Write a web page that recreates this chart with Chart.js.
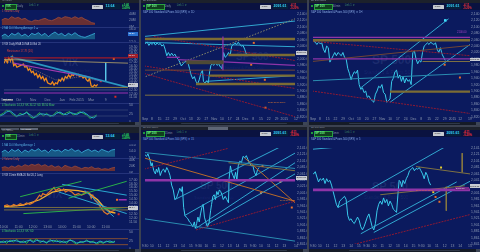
<!DOCTYPE html>
<html>
<head>
<meta charset="utf-8">
<script src="https://cdn.jsdelivr.net/npm/chart.js@4.4.1/dist/chart.umd.min.js"></script>
<style>
  html, body { margin: 0; padding: 0; width: 480px; height: 252px; overflow: hidden; background: #3b4150; font-family: "Liberation Sans", Arial, sans-serif; }
  div, canvas { position: absolute; }
  .t { white-space: nowrap; line-height: 1; }
</style>
</head>
<body>
<script>
// chart instances
let charts = {};

// ---------- VIX daily (top left), x = bar slot, y = VIX ----------
const vixBars = [0,5,10,15,20,25,30,35,40,50,60,65,70,75,80,85,90,95,100,105,110,115,120,125,130,135,140,145,150,155,160,165,170,175,180,185,190,195,200,205,210,215,220,225,230,235,240,245,250,255,260,265,270,275,280,285,290];
const vixClose = [16.9,17.5,17.0,17.75,17.25,17.9,16.5,16.75,16.25,16.5,16.75,16.25,16.4,15.75,16.0,15.4,15.6,15.0,15.25,14.6,15.0,14.4,14.75,14.1,14.5,13.75,13.6,13.5,13.9,13.4,13.75,13.6,14.25,14.0,14.5,14.1,14.75,14.5,15.0,14.6,15.1,14.9,15.25,15.0,15.1,14.75,14.9,14.5,14.75,14.25,14.0,14.4,13.25,13.1,13.4,13.2,13.5];
const vixMaBars = [0,40,80,120,160,200,240,280,290];
const vixMa = [17.2,16.8,16.2,15.2,14.2,14.4,14.8,14.2,14.0];
const vixPurpleBars = [30,120,200,260,300];
const vixPurple = [16.9,16.0,15.25,14.75,14.0];
const vixRed = [[0,17.75,385,17.75]];
const vixBeige = [[0,17.5,385,16.9]];
const vixTeal = [[20,17.9,385,13.0]];
const vixGold = [[110,13.0,385,13.0]];
const vixGrey = [[0,12.6,385,12.6]];
const vixPurpleFlat = [[0,12.1,385,12.1]];
const vixCyan = [[315,17.0,315,14.0]];
const vixOrangeMarks = [[340,17.6]];
const vixRedMarks = [[300,14.0],[345,11.5]];
const vixDays = ['Sep','Oct','Nov','Dec','Jan','Feb 2015','Mar','9','16'];

const volBars = [5,15,25,35,45,55,65,75,85,95,105,115,125,135,145,155,165,175,185,195,205,215,225,235,245,255,265,275,285];
const vixVol = [21,26,23,31,26,29,23,26,19,16,21,19,23,26,21,19,23,29,26,31,29,26,31,26,29,23,19,13,11];
const vixMa10 = [18,24,16,26,21,28,18,24,16,26,22,28,20,26,16,24,30,22,26,18,26,21,28,20,16,14,18,22,26];
const stoBars = [0,10,20,30,40,50,60,70,80,90,100,110,120,130,140,150,160,170,180,190,200,210,220,230,240,250,260,270,280,290];
const vixStoK = [21,26,36,31,21,16,26,21,31,16,11,21,28,18,26,16,21,31,26,21,28,31,21,26,31,26,21,11,16,21];
const vixStoD = [18,22,30,34,26,18,20,24,28,22,14,16,24,24,22,20,18,26,30,24,22,28,26,22,28,30,24,16,12,18];

// ---------- VIX 15 min (bottom left) ----------
const v15Bars = [0,10,20,30,40,50,60,70,80,90,100,110,115,120,130,140,150,155,160,170,180,185,190,200,210,220,230,240,250,260,265,270,275,280,290,300,310,320,330,340,345];
const v15Close = [13.6,13.72,13.48,13.8,13.6,13.88,13.72,14.0,13.8,14.0,14.4,15.0,14.8,15.2,15.0,15.4,15.8,16.0,15.6,15.88,15.6,15.8,15.4,15.6,15.4,15.0,15.2,15.0,15.2,15.4,15.2,14.6,15.0,14.4,14.0,13.4,12.8,12.52,12.8,13.0,13.2];
const v15MaBars = [0,60,110,150,190,230,260,290,310,330,345];
const v15Ma = [13.48,13.72,14.4,15.4,15.72,15.6,15.32,14.4,13.4,12.8,12.68];
const v15Green = [[50,14.8,240,16.8],[200,14.6,380,16.8],[60,12.6,380,13.4]];
const v15Cyan = [[180,16.4,380,15.0],[250,15.6,340,12.2],[170,15.4,380,12.6]];
const v15Gold = [[0,13.4,384,13.4],[0,13.08,384,13.08]];
const v15Purple = [[355,14.4,380,14.4]];
const v15OrangeMarks = [[350,14.4]];
const v15RedMarks = [[355,12.52]];
const v15Times = ['10:00','11:00','12:00','13:00','14:00','15:00','10:00','11:00','12:00'];

const v15SubBars = [5,15,25,35,45,55,65,75,85,95,105,115,125,135,145,155,165,175,185,195,205,215,225,235,245,255,265,275,285,295,305,315,325,335,345];
const v15Ma10 = [18,24,16,26,20,26,16,24,18,26,21,28,20,24,16,26,21,24,18,26,22,28,20,24,16,22,26,20,24,18,26,22,18,24,26];
const v15Vol = [16,19,15,21,17,23,19,25,21,26,23,27,21,25,19,23,17,21,15,23,19,16,21,17,13,17,15,19,13,15,11,13,11,15,17];
const v15StoBars = [0,10,20,30,40,50,60,70,80,90,100,110,120,130,140,150,160,170,180,190,200,210,220,230,240,250,260,270,280,290,300,310,320,330,340,345];
const v15StoK = [19,24,17,27,21,29,19,24,17,29,23,31,19,25,17,29,21,27,19,24,17,29,21,14,23,19,27,19,24,14,21,17,24,19,21,24];
const v15StoD = [22,20,24,22,26,24,22,20,24,26,20,26,24,22,20,24,26,22,24,20,22,26,24,18,20,22,24,22,20,18,24,20,22,24,20,22];
const stoLevels = [[0,31,384,31],[0,13,384,13]];

// ---------- S&P 500 (middle top) ----------
const mtBars = [3,10,15,20,25,30,35,40,45,50,55,60,65,70,75,80,85,90,95,100,105,110,115,120,125,130,135,140,145,150,155,160,165,170,175,180,183,188,193,198,202,206,210,215,220,225,230,235,240,245,250,255,260,265,270,275,280,285,290,295,300,305,310,315];
const mtClose = [2048,2052,2042,2050,2045,2052,2043,2050,2045,2048,2040,2045,2030,2010,2020,2010,2018,2010,2015,2005,2000,1990,1978,1985,1990,1992,1990,1970,1950,1938,1945,1930,1922,1935,1955,1965,1930,1925,1932,1925,1960,1980,1985,1980,1990,1980,1985,1975,1970,2020,2005,2010,2020,2010,2040,2045,2050,2045,2052,2045,2040,2042,2030,2015];
const mtGrey = [[5,1945,465,2125]];
const mtCyan = [[0,2070,465,2118],[0,2052,465,2038],[190,1930,465,1948]];
const mtRed = [[30,2070,465,1995],[0,1978,465,1908],[0,1955,465,1820]];
const mtGold = [[0,2062,465,2062],[260,2012,465,2012],[200,1948,465,1948],[160,1922,465,1922]];
const mtGoldThin = [[0,1887,465,1887]];
const mtBand = [[130,1990,245,1990]];
const mtBrown = [[0,1965,465,1965]];
const mtPurple = [[70,2005,110,2005],[105,1998,465,1980],[243,2070,243,1965]];
const mtMarks = [[338,2050],[330,1982],[372,1935],[374,1848]];

// ---------- S&P 500 (right top) ----------
const rtBars = [0,5,10,15,20,25,30,35,40,45,50,55,60,65,70,75,80,85,90,95,100,105,110,115,120,125,130,135,140,145,150,155,160,165,170,175,180,185,190,195,200,205,210,215,220,225,230,235,240,245,250,255,260,265,270,275,280,285,290,295,300,305,310,315,320,325,330,335,340,345,350,355,360,365,370,375,380,385,390,395,400,405,410];
const rtClose = [2050,2055,2052,2045,2052,2048,2050,2030,2020,2040,2035,1990,2000,2010,2020,2010,2020,2015,2010,2020,2005,2000,1970,1955,1935,1950,1960,1955,1965,1920,1905,1910,1895,1900,1880,1885,1875,1870,1865,1890,1900,1915,1910,1920,1895,1890,1865,1870,1875,1930,1940,1960,1965,1940,1950,1930,1945,1925,1940,1930,1935,1920,2020,2025,2000,1985,1995,1990,2020,2040,2045,2050,2045,2052,2048,2045,2050,2030,2020,2035,2015,2005,1995];
const rtPurple = [[0,2067,486,2067],[0,2000,486,2000]];
const rtGold = [[0,2058,486,2058],[240,1898,486,1898]];
const rtGoldThin = [[340,1992,486,1992]];
const rtRed = [[0,2055,486,2010],[0,1900,486,1830]];
const rtBrown = [[0,1992,486,2042]];
const rtCyan = [[150,1910,420,2125],[240,1865,486,2045]];
const rtTeal = [[0,1932,486,1955]];
const rtMarks = [[408,1982],[455,1942]];
const rtCyanMarks = [[410,2120]];

// ---------- S&P 500 (middle bottom) ----------
const mbBars = [3,8,12,18,22,25,30,35,38,42,45,50,55,60,65,70,75,80,85,90,95,100,105,110,115,118,122,126,130,135,140,145,150,155,158,162,166,170,174,178,182,186,190,195,200,205,208,212,216,220,224,228,232,236,240,244,250,255,260,262,266,270,274,278,282,286,290,295,300,305,310,315,320,325,330,335,340,345,350,355];
const mbClose = [2120,2115,2123,2105,2085,2095,2070,2060,2075,2065,2080,2055,2070,2075,2065,2080,2070,2055,2025,2010,1980,1985,2000,2015,2005,2020,1955,1930,1925,1920,1910,1905,1895,1910,1890,1905,1925,1910,1935,1955,1965,1925,1910,1895,1905,1945,1965,1990,1995,1980,2005,1995,2010,2005,1995,1980,1990,1980,1970,2045,2085,2065,2055,2045,2065,2040,2085,2100,2095,2115,2110,2117,2105,2095,2085,2087,2065,2055,2075,2080];
const mbTeal = [[0,2127,465,2077],[0,1920,465,1850]];
const mbGoldThin = [[260,2095,465,2070]];
const mbRed = [[0,2075,260,2140],[160,1885,465,1975]];
const mbOrange = [[0,2110,465,1975],[310,2110,465,1970]];
const mbCyan = [[95,1980,440,2155],[125,1930,465,2125],[160,1890,465,2095],[190,1900,465,2060]];
const mbPurple = [[0,2040,465,2040]];
const mbMarks = [[365,2085],[420,2035],[360,2000],[455,1955]];

// ---------- S&P 500 (right bottom) ----------
const rbBars = [0,5,10,15,20,25,30,35,40,45,50,55,60,65,70,75,80,85,90,95,100,105,110,115,120,125,130,135,140,145,150,155,160,165,170,175,180,185,190,195,200,205,210,215,220,225,230,235,240,245,250,255,260,265,268,272,276,280,285,290,295,300,305,310,315,320,325,330,335,340,345,350,355,360,365];
const rbClose = [2065,2060,2067,2050,2035,2045,2040,2047,2030,2045,2035,2040,2025,2005,1985,1965,1955,1975,1980,1985,1990,1980,1930,1915,1920,1910,1905,1915,1925,1915,1895,1885,1895,1910,1925,1935,1915,1895,1885,1905,1945,1965,1975,1965,1985,1970,1980,1960,1975,1965,1950,1945,1940,2005,2040,2035,2020,2040,2030,2045,2055,2070,2075,2080,2070,2077,2075,2080,2070,2060,2045,2065,2055,2035,2025];
const rbCyan = [[80,1955,410,2145],[150,1873,445,2035],[190,1877,486,2037],[0,2137,115,2147]];
const rbGoldThin = [[210,1995,470,2023],[320,2083,486,2060],[462,2125,462,2065],[413,2020,413,1945]];
const rbPurple = [[0,2010,486,2010]];
const rbRed = [[130,1840,486,1933]];
const rbYellowMarks = [[397,2080],[373,2003]];
const rbMarks = [[380,1988],[392,1973]];

const spDays = ['Sep','8','15','22','29','Oct','13','20','27','Nov','10','17','24','Dec','8','15','22','29','2015','12','19','26','Feb','9'];
const spHours = ['9:30','10','11','12','13','14','15','9:30','10','11','12','13','14','15','9:30','10','11','12','13','14','15','9:30','10','11'];

// ---------- helpers ----------
const NAVY = '#0b1a5e';

function box(x, y, w, h, bg, extra) {
    const d = document.createElement('div');
    d.style.cssText = `left:${x}px;top:${y}px;width:${w}px;height:${h}px;background:${bg};` + (extra || '');
    document.body.appendChild(d);
    return d;
}

function label(x, y, s, color, size, extra) {
    const d = document.createElement('div');
    d.className = 't';
    d.textContent = s;
    d.style.cssText = `left:${x}px;top:${y}px;color:${color};font-size:${size}px;` + (extra || '');
    document.body.appendChild(d);
    return d;
}

function series(xs, ys, color, width, dash) {
    return { data: xs.map((x, i) => ({ x: x, y: ys[i] })), borderColor: color, borderWidth: width || 1, borderDash: dash || [], pointRadius: 0, fill: false };
}

function area(xs, ys, color, fillColor, base) {
    return { data: xs.map((x, i) => ({ x: x, y: ys[i] })), borderColor: color, borderWidth: 0.8, pointRadius: 0, fill: { value: base }, backgroundColor: fillColor };
}

function segs(list, color, width, dash) {
    return list.map(p => ({ data: [{ x: p[0], y: p[1] }, { x: p[2], y: p[3] }], borderColor: color, borderWidth: width || 1, borderDash: dash || [], pointRadius: 0, fill: false }));
}

function marks(list, color, size) {
    return { data: list.map(p => ({ x: p[0], y: p[1] })), showLine: false, pointStyle: 'rect', pointRadius: size || 1.4, backgroundColor: color, borderWidth: 0 };
}

const money = v => v.toLocaleString('en-US', { minimumFractionDigits: 2, maximumFractionDigits: 2 });

function addChart(id, r, cfg) {
    const cv = document.createElement('canvas');
    cv.width = r.w; cv.height = r.h;
    cv.style.cssText = `left:${r.x}px;top:${r.y}px;width:${r.w}px;height:${r.h}px;`;
    document.body.appendChild(cv);
    charts[id] = new Chart(cv, {
        type: 'line',
        data: { datasets: cfg.datasets },
        options: {
            responsive: false,
            animation: false,
            events: [],
            layout: { padding: 0 },
            plugins: { legend: { display: false }, tooltip: { enabled: false } },
            elements: { line: { tension: 0 } },
            scales: {
                x: {
                    type: 'linear', min: cfg.xMin, max: cfg.xMax, display: !!cfg.xAxisH,
                    grid: { display: false, drawTicks: false, tickLength: 0 }, border: { display: false },
                    ticks: { stepSize: cfg.xStep || 30, autoSkip: false, maxRotation: 0, padding: 0.5, color: '#8e9ab0', font: { size: 3.4 },
                             callback: v => (cfg.xLabels ? (cfg.xLabels[Math.round((v - cfg.xMin) / (cfg.xStep || 30))] || '') : '') },
                    afterFit: s => { s.height = cfg.xAxisH || 0; s.paddingLeft = 0; s.paddingRight = 0; }
                },
                y: {
                    position: 'right', min: cfg.yMin, max: cfg.yMax,
                    grid: { display: false, drawTicks: false, tickLength: 0 }, border: { display: false },
                    ticks: { stepSize: cfg.yStep, autoSkip: false, includeBounds: false, padding: 1, color: '#8e9cb6', font: { size: 3.4 },
                             callback: cfg.yLabel || (v => v.toFixed(2)) },
                    afterFit: s => { s.width = cfg.axisW; s.paddingTop = 0; s.paddingBottom = 0; }
                }
            }
        }
    });
}

function header(x, y, w, title, sym, interval, last, chg1, chg2, up) {
    box(x, y, w, 3, '#1c212b');
    label(x + 2, y + 0.3, title, '#8f98a8', 2.4);
    box(x, y + 3, w, 7, '#0a1240');
    box(x + 1.5, y + 4.8, 2.5, 2.5, '#27c23f', 'border-radius:50%;');
    box(x + 5, y + 4.3, sym.length * 2.3 + 3, 3.8, '#10401e', 'border:0.5px solid #2aa040;');
    label(x + 6, y + 4.8, sym, '#6ff08a', 3, 'font-weight:bold;');
    label(x + sym.length * 2.3 + 10, y + 4.9, interval, '#7f8aa0', 2.8);
    label(x + sym.length * 2.3 + 22, y + 4.9, 'Link 1   \u25bc', '#3f8a6a', 2.6);
    box(x + w - 47, y + 5, 11, 3.6, '#c6cad0', 'border-radius:0.5px;');
    label(x + w - 45.5, y + 5.5, 'Trade', '#333', 2.4);
    box(x + w - 34, y + 4.4, 15, 4.4, '#06203c');
    label(x + w - 33.5, y + 4.8, last, '#37d6ff', 3.6, 'font-weight:bold;');
    const c = up ? '#2fe05a' : '#ff3434';
    label(x + w - 17, y + 3.6, chg1, c, 2.8, 'font-weight:bold;');
    label(x + w - 17, y + 6.6, chg2, c, 2.8, 'font-weight:bold;');
}

function scrollbar(x, y, w) {
    box(x, y, w, 3, '#151b27');
    box(x + 40, y + 0.6, w - 60, 1.8, '#2f3848', 'border-radius:1px;');
    box(x + w - 4, y, 4, 3, '#3c4556');
}

// ---------- panel backgrounds ----------
box(0, 0, 139, 125, NAVY);
box(0, 127, 139, 125, NAVY);
box(141, 0, 166, 125, NAVY);
box(309, 0, 171, 125, NAVY);
box(141, 127, 166, 125, NAVY);
box(309, 127, 171, 125, NAVY);

// subpanel separators
[27, 42, 103].forEach(y => box(0, y, 139, 0.6, '#24337a'));
[158, 173, 229].forEach(y => box(0, y, 139, 0.6, '#24337a'));

// faint watermarks
label(62, 58, 'VIX', 'rgba(150,170,230,0.13)', 10, 'font-weight:bold;');
label(60, 70, 'CBOE Volatility Index', 'rgba(150,170,230,0.12)', 3.5);
label(46, 190, 'VIX', 'rgba(150,170,230,0.10)', 10, 'font-weight:bold;');
label(236, 52, 'SP 500', 'rgba(150,170,230,0.12)', 10, 'font-weight:bold;');
label(224, 66, 'Standard & Poors 500', 'rgba(150,170,230,0.10)', 4);
label(372, 54, 'SP 500', 'rgba(150,170,230,0.12)', 12, 'font-weight:bold;');
label(364, 70, 'Standard & Poors 500', 'rgba(150,170,230,0.10)', 5);
label(200, 181, 'SP 500', 'rgba(150,170,230,0.12)', 10, 'font-weight:bold;');
label(194, 196, 'Standard & Poors 500', 'rgba(150,170,230,0.10)', 4);
label(372, 181, 'SP 500', 'rgba(150,170,230,0.12)', 11, 'font-weight:bold;');
label(364, 196, 'Standard & Poors 500', 'rgba(150,170,230,0.10)', 4.5);

// ---------- charts: VIX daily ----------
addChart('vixVol', { x: 0, y: 10, w: 139, h: 17 }, {
    xMin: 0, xMax: 384, yMin: 0, yMax: 51, yStep: 20, axisW: 11, yLabel: v => v + 'M',
    datasets: [area(volBars, vixVol, '#9a4a3c', 'rgba(122,52,44,0.85)', 6)]
});
addChart('vixMa', { x: 0, y: 27, w: 139, h: 15 }, {
    xMin: 0, xMax: 384, yMin: 0, yMax: 45, yStep: 20, axisW: 11, yLabel: v => (12 + v / 10).toFixed(1),
    datasets: [area(volBars, vixMa10, '#3ab4e0', 'rgba(26,100,140,0.85)', 8)]
});
addChart('vixMain', { x: 0, y: 43, w: 139, h: 60 }, {
    xMin: 0, xMax: 384, yMin: 11.3, yMax: 19.5, yStep: 0.5, axisW: 11, xAxisH: 5, xStep: 45, xLabels: vixDays,
    yLabel: v => v.toFixed(2),
    datasets: [
        ...segs(vixPurpleFlat, '#9a30b0', 1.2),
        ...segs(vixGrey, '#4a5a8a', 0.8),
        ...segs(vixGold, '#8a7a40', 1),
        ...segs(vixRed, '#a01a28', 1.4),
        ...segs(vixBeige, '#a89868', 0.9),
        ...segs(vixTeal, '#2a96c0', 1.8),
        series(vixPurpleBars, vixPurple, '#a03ab0', 1.2),
        series(vixMaBars, vixMa, '#8a7a70', 0.8, [1, 1]),
        series(vixBars, vixClose, '#f08a1c', 1.3),
        ...segs(vixCyan, '#60d0f0', 0.8),
        marks(vixOrangeMarks, '#f07020'),
        marks(vixRedMarks, '#e02a20')
    ]
});
addChart('vixSto', { x: 0, y: 103, w: 139, h: 19 }, {
    xMin: 0, xMax: 384, yMin: 0, yMax: 57, yStep: 25, axisW: 11, yLabel: v => String(v),
    datasets: [
        ...segs(stoLevels.map(p => [p[0], p[1] + 5, p[2], p[3] + 5]), '#3a4a7a', 0.7),
        series(stoBars, vixStoD, '#2ab8d8', 0.9),
        series(stoBars, vixStoK, '#2ec24a', 0.9)
    ]
});

// ---------- charts: VIX 15 min ----------
addChart('v15Ma', { x: 0, y: 144, w: 139, h: 14 }, {
    xMin: 0, xMax: 384, yMin: 0, yMax: 42, yStep: 20, axisW: 11, yLabel: v => (13 + v / 20).toFixed(1),
    datasets: [area(v15SubBars, v15Ma10, '#3ab4e0', 'rgba(26,100,140,0.85)', 4)]
});
addChart('v15Vol', { x: 0, y: 158, w: 139, h: 15 }, {
    xMin: 0, xMax: 384, yMin: 0, yMax: 45, yStep: 20, axisW: 11, yLabel: v => v + 'K',
    datasets: [area(v15SubBars, v15Vol, '#9a4a3c', 'rgba(122,52,44,0.85)', 6)]
});
addChart('v15Main', { x: 0, y: 173, w: 139, h: 56 }, {
    xMin: 0, xMax: 384, yMin: 11.12, yMax: 17.36, yStep: 0.5, axisW: 11, xAxisH: 4, xStep: 45, xLabels: v15Times,
    yLabel: v => v.toFixed(2),
    datasets: [
        ...segs(v15Gold, '#7a6e40', 1),
        ...segs(v15Green, '#2ab04a', 1),
        ...segs(v15Cyan, '#2aa8d0', 1),
        ...segs(v15Purple, '#9a30b0', 1.5),
        series(v15Bars, v15Close, '#e0782a', 1.2),
        series(v15MaBars, v15Ma, '#f0b030', 1.3),
        marks(v15OrangeMarks, '#f07020'),
        marks(v15RedMarks, '#e02a20')
    ]
});
addChart('v15Sto', { x: 0, y: 229, w: 139, h: 20 }, {
    xMin: 0, xMax: 384, yMin: 0, yMax: 60, yStep: 25, axisW: 11, yLabel: v => String(v),
    datasets: [
        ...segs(stoLevels, '#a05a2a', 0.8),
        series(v15StoBars, v15StoD, '#2ab8d8', 0.9),
        series(v15StoBars, v15StoK, '#2ec24a', 0.9)
    ]
});

// ---------- charts: S&P 500 ----------
function spDatasets(g) {
    return [
        ...segs(g.band || [], '#4e4a36', 4),
        ...segs(g.purple || [], '#8e34a8', g.purpleW || 1.3),
        ...segs(g.gold || [], '#7c6c34', 2.4),
        ...segs(g.goldThin || [], '#8c7c40', 0.9),
        ...segs(g.brown || [], '#7a4a30', 0.9),
        ...segs(g.red || [], '#8e1a34', 1, [2, 1]),
        ...segs(g.orange || [], '#b86a2a', 1),
        ...segs(g.teal || [], '#2a8cb0', 1),
        ...segs(g.grey || [], '#8a8a6a', 1, [1.5, 1.5]),
        ...segs(g.cyan || [], '#36b8dc', 0.9),
        series(g.bars, g.close, '#3cd4f2', 0.95),
        marks(g.marks || [], '#e8702a'),
        marks(g.yellow || [], '#e8d030'),
        marks(g.cyanMarks || [], '#40e0ff', 1.8)
    ];
}

addChart('spMT', { x: 141, y: 10, w: 166, h: 112 }, {
    xMin: 3, xMax: 468, yMin: 1819, yMax: 2140, yStep: 20, axisW: 11, xAxisH: 5, xStep: 24, xLabels: spDays, yLabel: money,
    datasets: spDatasets({ bars: mtBars, close: mtClose, grey: mtGrey, cyan: mtCyan, red: mtRed, gold: mtGold, goldThin: mtGoldThin,
                           band: mtBand, brown: mtBrown, purple: mtPurple, marks: mtMarks })
});
addChart('spRT', { x: 309, y: 10, w: 171, h: 112 }, {
    xMin: 3, xMax: 486, yMin: 1819, yMax: 2140, yStep: 20, axisW: 10, xAxisH: 5, xStep: 24, xLabels: spDays, yLabel: money,
    datasets: spDatasets({ bars: rtBars, close: rtClose, purple: rtPurple, gold: rtGold, goldThin: rtGoldThin, red: rtRed,
                           brown: rtBrown, cyan: rtCyan, teal: rtTeal, marks: rtMarks, cyanMarks: rtCyanMarks })
});
addChart('spMB', { x: 141, y: 144, w: 166, h: 104 }, {
    xMin: 3, xMax: 468, yMin: 1841, yMax: 2141, yStep: 20, axisW: 11, xAxisH: 4, xStep: 24, xLabels: spHours, yLabel: money,
    datasets: spDatasets({ bars: mbBars, close: mbClose, teal: mbTeal, goldThin: mbGoldThin, red: mbRed, orange: mbOrange,
                           cyan: mbCyan, purple: mbPurple, purpleW: 2.6, marks: mbMarks })
});
addChart('spRB', { x: 309, y: 144, w: 171, h: 104 }, {
    xMin: 3, xMax: 486, yMin: 1841, yMax: 2141, yStep: 20, axisW: 10, xAxisH: 4, xStep: 24, xLabels: spHours, yLabel: money,
    datasets: spDatasets({ bars: rbBars, close: rbClose, cyan: rbCyan, goldThin: rbGoldThin, purple: rbPurple, purpleW: 2.6,
                           red: rbRed, marks: rbMarks, yellow: rbYellowMarks })
});

// ---------- headers, sub-labels, scrollbars ----------
header(0, 0, 139, 'VIX Daily', 'VIX', 'Daily', '13.64', '+0.46', '3.49%', true);
header(141, 0, 166, 'SP 500 Daily', 'SP 500', 'Daily', '2091.61', '-4.11', '-0.20%', false);
header(309, 0, 171, 'SP 500 60min', 'SP 500', '60min', '2091.61', '-4.11', '-0.20%', false);

box(0, 127, 139, 3, '#1c212b');
box(1, 127.5, 18, 2.5, '#4a5262'); label(2, 127.8, 'VIX Daily', '#d0d4dc', 2.2);
box(20, 127.5, 18, 2.5, '#5e6676'); label(21, 127.8, 'VIX 60min', '#e8eaee', 2.2);
header(0, 130, 139, 'VIX 15min', 'VIX', '15min', '13.64', '+0.46', '3.49%', true);
header(141, 127, 166, 'SP 500 15min', 'SP 500', '15min', '2091.61', '-4.11', '-0.20%', false);
box(208, 127, 20, 2.6, '#5e6676');
header(309, 127, 171, 'SP 500 5min', 'SP 500', '5min', '2091.61', '-4.11', '-0.20%', false);

label(2, 11, '1  Volume  Daily', '#d05a4a', 2.6);
label(2, 28, '2  MA 10.0  Moving Average 2  \u25b2', '#5ab4e8', 2.6);
label(2, 43.5, '3  VIX   Daily   EMA 20   MA 50   Bol 20', '#c8d0e8', 2.6);
label(2, 104.5, '4  Stochastic 14,3,3   %K 34.12   %D 38.50   Slow', '#46d06a', 2.6);
label(7, 50.5, 'Resistance 17.78 (D1)', '#e0403a', 2.6);
label(2, 145, '1  MA 10.0  Moving Average 1', '#5ab4e8', 2.6);
label(2, 159, '2  Volume  Daily', '#d05a4a', 2.6);
label(2, 174.5, '3  VIX   15min   EMA 20   Bol 20,2   Long', '#c8d0e8', 2.6);
label(2, 231, '4  Stochastic 14,3,3   %K   %D', '#46d06a', 2.6);
label(143, 12, 'S&P 500  Standard & Poors 500 (SPX)  \u25bc  1D', '#8fb0e8', 2.6);
label(311, 12, 'S&P 500  Standard & Poors 500 (SPX)  \u25bc  1H', '#8fb0e8', 2.6);
label(143, 139, 'S&P 500  Standard & Poors 500 (SPX)  \u25bc  15', '#8fb0e8', 2.6);
label(311, 139, 'S&P 500  Standard & Poors 500 (SPX)  \u25bc  5', '#8fb0e8', 2.6);

// value tags on the price axes
box(296, 51, 11, 3.5, '#c8ccd4'); label(296.5, 51.6, '2,091.61', '#111', 2.4);
box(470, 57.5, 10, 3.5, '#c8ccd4'); label(470.3, 58.1, '2,091.61', '#111', 2.3);
label(457, 32, '2100.00', '#b040c8', 2.6);
box(296, 176, 11, 3.5, '#c8ccd4'); label(296.5, 176.6, '2,091.61', '#111', 2.4);
box(470, 184, 10, 3.5, '#c8ccd4'); label(470.3, 184.6, '2,091.61', '#111', 2.3);
box(455, 186.5, 14, 3, '#7a2a8a'); label(456, 186.9, '2,041.00', '#eee', 2.2);
box(128, 32, 10, 3.5, '#2a70d0'); label(128.5, 32.6, '15.31', '#fff', 2.4);
box(128, 54, 10, 3.5, '#a01e2a'); label(128.5, 54.6, '17.78', '#fff', 2.4);
box(128, 83, 10, 3.5, '#c8ccd4'); label(128.5, 83.6, '13.64', '#111', 2.4);
box(128, 206, 10, 3.5, '#c8ccd4'); label(128.5, 206.6, '13.64', '#111', 2.4);
label(268, 102, '2050  2100  2080', '#e07a30', 2.4);
label(280, 200, '2045.50  2030', '#e07a30', 2.4);
label(416, 190, '2041 1974 Pivot', '#e07a30', 2.4);
label(3, 99, 'Oct 2014', '#fff', 2.4, 'background:#6a7284;');

scrollbar(0, 122, 139);
scrollbar(141, 122, 166);
scrollbar(309, 122, 171);
scrollbar(0, 249, 139);
scrollbar(141, 249, 166);
scrollbar(309, 249, 171);
</script>
</body>
</html>
